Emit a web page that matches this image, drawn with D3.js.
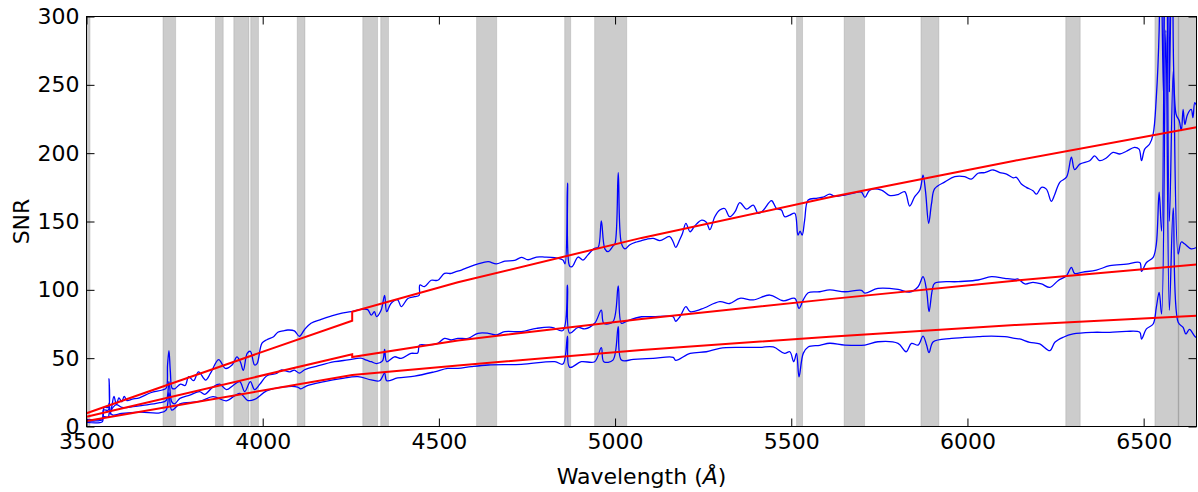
<!DOCTYPE html>
<html>
<head>
<meta charset="utf-8">
<script src="https://cdn.jsdelivr.net/npm/d3@7"></script>
<style>
  body { margin: 0; background: white; }
  svg { display: block; }
</style>
</head>
<body>
<svg id="chart" width="1198" height="492"></svg>
<script>
// masked wavelength windows (Angstrom)
const bands = [[3500,3510],[3717,3753],[3866,3888],[3918,3961],[3966,3988],[4098,4120],
  [4284,4326],[4335,4357],[4607,4664],[4857,4874],[4942,5033],[5515,5532],[5650,5708],
  [5868,5919],[6279,6320],[6532,6600],[6598,6660]]

const xTicks = [3500, 4000, 4500, 5000, 5500, 6000, 6500]
const yTicks = [0, 50, 100, 150, 200, 250, 300]

// measured SNR, three spectra [wavelength, snr]
const snrTop = [[3500,5],[3520,5],[3545,6],[3550,14],[3562,14],[3564,35],[3567,9],[3572,15],[3578,22],
  [3585,16],[3592,21],[3600,18],[3607,22],[3615,19],[3630,20],[3650,21],[3682,24.7],[3715,26.7],
  [3726,28],[3730,45],[3734,55.5],[3738,40],[3743,28],[3750,27.6],[3767,31],[3780,30],[3790,36.5],
  [3804,33.5],[3818,40],[3838,34],[3852,39],[3875,49],[3894,42.5],[3913,45],[3927,51],[3937,47],
  [3945,41],[3956,53.5],[3965,55],[3977,45],[3984,46],[3998,61],[4012,63.5],[4031,65.7],[4043,69],
  [4058,70],[4071,70.6],[4090,70],[4104,66],[4119,71],[4137,75.5],[4166,78.4],[4194,80.8],[4222,82.8],
  [4251,84],[4279,85.7],[4298,85.5],[4308,81.5],[4317,84],[4323,80.4],[4336,85],[4346,96],[4352,84],
  [4364,90],[4383,92.7],[4393,87.7],[4412,93.6],[4431,95],[4444,96],[4446,103.5],[4459,102.3],
  [4478,107],[4497,107],[4516,112],[4535,112],[4545,113],[4564,114.5],[4583,116.5],[4611,119],
  [4640,120.6],[4663,119],[4687,121],[4715,121.5],[4734,123.8],[4753,122],[4777,124],[4800,124],
  [4829,123.5],[4852,121.8],[4858,119],[4865,178],[4871,117.4],[4878,117],[4895,124],[4909,121.8],
  [4923,125.6],[4942,130.4],[4952,131],[4961,150.4],[4971,130],[4980,128],[4994,132],[5000,134],
  [5009,185.7],[5018,134],[5028,130],[5042,133],[5061,135],[5075,136],[5089,137],[5108,137.7],
  [5127,136],[5155,139],[5165,135],[5172,131],[5184,137],[5191,141],[5201,148.7],[5213,142.5],
  [5227,147],[5246,151],[5259,149.5],[5269,144],[5283,153.5],[5297,158.4],[5311,159.5],[5325,153.5],
  [5340,157],[5354,163.8],[5373,159],[5392,162],[5406,156],[5420,158],[5444,165.2],[5458,159.5],
  [5472,158.4],[5481,153.5],[5496,154.7],[5510,156],[5519,140],[5525,143],[5531,140],[5538,151],
  [5548,165.7],[5571,167],[5590,167.8],[5609,170],[5623,168.5],[5652,169.4],[5680,171],[5699,171.5],
  [5709,167.6],[5723,173],[5756,173],[5780,169],[5803,169.7],[5822,171.8],[5836,161.3],[5850,168],
  [5865,173],[5874,184],[5881,172],[5890,148.7],[5898,163],[5907,174],[5936,179],[5964,182.8],
  [5992,182.8],[6011,181],[6030,185.3],[6049,185.8],[6073,187.7],[6092,185.8],[6111,184.7],[6130,182],
  [6139,182.3],[6153,177.4],[6167,175],[6186,172.5],[6196,170],[6210,175],[6224,173.7],[6238,164.8],
  [6248,170],[6262,178.7],[6281,182.4],[6295,197],[6304,188],[6319,192],[6347,194.5],[6361,198],
  [6375,194.5],[6394,196.5],[6413,200.6],[6432,199.4],[6451,201.4],[6474,204.3],[6487,203],[6494,194.5],
  [6503,203],[6517,206.7],[6527,214],[6536,241],[6544,290],[6548,380],[6556,243],[6563,800],[6573,245],
  [6584,450],[6592,228.6],[6601,223.7],[6607,216.5],[6612,232],[6617,221],[6624,228],[6635,232],
  [6640,226],[6645,237],[6650,235]]

const snrMid = [[3500,4],[3520,4],[3545,5],[3548,12],[3562,12],[3564,17],[3568,11],[3575,14],[3585,16],
  [3600,14],[3632,14.5],[3660,15.5],[3690,16.5],[3708,17.4],[3726,19],[3734,32.8],[3742,18],[3750,16.5],
  [3765,20.6],[3793,23],[3821,25.5],[3835,23.5],[3859,29],[3878,31],[3897,27],[3916,30],[3935,32.8],
  [3949,25.5],[3965,32.8],[3977,27],[3992,31],[4011,37],[4039,38.8],[4052,41.3],[4077,40],[4090,41.3],
  [4104,39],[4119,41.5],[4156,44.3],[4204,47.4],[4242,48.7],[4279,50],[4294,48.5],[4308,47.4],[4323,46],
  [4340,48],[4346,56.5],[4352,47.4],[4374,51],[4393,49.8],[4421,53.5],[4440,53.8],[4445,59.6],[4469,59.6],
  [4497,60.8],[4516,64.5],[4535,63.3],[4554,64.5],[4583,64.5],[4611,68.2],[4640,68.2],[4663,67],
  [4687,69.4],[4734,69.4],[4777,71.8],[4820,72.6],[4852,70.2],[4865,103.5],[4871,68.3],[4895,72.6],
  [4914,71.4],[4942,75.5],[4961,85.2],[4968,75.5],[4994,76.7],[5009,102.8],[5018,75.5],[5032,77],
  [5075,80.3],[5108,80.3],[5146,80.8],[5165,80.3],[5172,77],[5184,80.3],[5201,87.7],[5213,84],[5246,86],
  [5297,91.3],[5325,90],[5354,93.8],[5392,92.6],[5439,96.2],[5477,92],[5510,93.8],[5522,86.5],[5534,92.6],
  [5548,97.9],[5581,98.6],[5609,99.9],[5652,98.6],[5699,99.6],[5709,97.6],[5746,101],[5803,100.3],
  [5836,98.4],[5860,102.3],[5874,109.6],[5884,99.6],[5891,84],[5900,99.6],[5907,104.8],[5974,106],
  [6030,107.2],[6068,109.6],[6106,108.4],[6134,107.7],[6144,107.9],[6163,104.3],[6186,105.5],[6210,104.3],
  [6234,101.8],[6257,106.7],[6281,110.3],[6295,116.5],[6304,112],[6328,113],[6366,114.4],[6404,117.7],
  [6451,118.8],[6489,120],[6494,113.5],[6508,120],[6527,123.8],[6536,133.5],[6544,171.4],[6551,143],
  [6563,450],[6573,150],[6584,260],[6598,126.2],[6607,135],[6617,133.5],[6635,130],[6650,131]]

const snrLow = [[3500,3],[3545,3.5],[3548,7],[3562,7],[3565,10],[3575,8.4],[3600,9.5],[3650,10.5],
  [3708,10],[3726,12],[3734,24.7],[3742,12],[3765,16.5],[3821,18.3],[3859,21.8],[3897,18.8],[3935,24.3],
  [3958,19],[3977,19.8],[4011,26],[4061,29],[4099,28.9],[4108,27.5],[4125,29.8],[4175,32.8],[4222,35],
  [4270,36.5],[4308,34.1],[4332,33.5],[4346,39],[4352,33.5],[4383,35.5],[4431,36.9],[4487,40],[4525,42.5],
  [4554,42.5],[4592,43.8],[4640,45],[4734,45.5],[4829,47.4],[4852,45.7],[4865,66.2],[4871,43.3],
  [4904,47.4],[4942,47.4],[4961,57.7],[4968,47.4],[4994,48.6],[5009,73],[5018,48.6],[5052,49.1],
  [5108,49.9],[5165,50.6],[5172,48.4],[5213,53.5],[5259,54.7],[5297,57.2],[5354,57.9],[5411,57.9],
  [5449,58.2],[5481,53.5],[5496,54.7],[5507,47.4],[5515,53.5],[5522,36.4],[5534,53.5],[5548,58.2],
  [5581,59.4],[5609,60.9],[5652,59.6],[5709,59.6],[5746,62],[5803,60.8],[5826,54.7],[5841,60.8],
  [5860,59.6],[5874,66.2],[5884,59.6],[5891,54],[5903,62],[5955,64.5],[6030,65.7],[6068,66.2],
  [6106,65.7],[6134,64.5],[6148,64.1],[6177,61.6],[6205,60.4],[6234,55.5],[6248,61.6],[6272,65.3],
  [6300,67.7],[6356,68.9],[6404,68.9],[6451,69.6],[6489,68.9],[6494,64],[6508,71.4],[6527,75],
  [6536,87.2],[6544,98.2],[6551,82.3],[6563,290],[6573,85],[6584,160],[6598,76.2],[6612,72.5],
  [6620,67.7],[6630,71],[6645,66],[6650,65]]

// model curves (red)
const modelTop = [[3500,9.7],[3729,30.4],[4254,77.4],[4254,84],[4554,105.5],[5075,138],[5609,167.7],[6134,194.5],[6650,219]]
const modelMid = [[3500,7.2],[4254,52.8],[4254,50.8],[4554,63],[5075,78.6],[5609,93.2],[6134,106.7],[6650,118.5]]
const modelLow = [[3500,4],[4254,37.7],[4554,44.7],[5075,56],[5609,65.7],[6134,74.2],[6650,81]]

const svg = d3.select('#chart')
const margin = {left: 86.5, top: 16.5, right: 1.5, bottom: 65.5}
const width = 1198 - margin.left - margin.right
const height = 492 - margin.top - margin.bottom
const font = 'DejaVu Sans, sans-serif'

let xScale = d3.scaleLinear().domain([3500, 6650]).range([0, width])
let yScale = d3.scaleLinear().domain([0, 300]).range([height, 0])

let plot = svg.append('g')
              .attr('transform', `translate(${margin.left}, ${margin.top})`)

plot.append('clipPath')
    .attr('id', 'clip')
    .append('rect')
    .attr('width', width)
    .attr('height', height)

let inner = plot.append('g').attr('clip-path', 'url(#clip)')

inner.selectAll('.band')
     .data(bands)
     .enter()
     .append('rect')
     .attr('class', 'band')
     .attr('x', d => xScale(d[0]))
     .attr('width', d => xScale(d[1]) - xScale(d[0]))
     .attr('y', 0)
     .attr('height', height)
     .style('fill', 'gray')
     .style('fill-opacity', 0.4)
     .style('stroke', 'gray')
     .style('stroke-opacity', 0.25)
     .style('stroke-width', 1)

// spectra get a light smoothing, model lines stay straight
let spectrumLine = d3.line()
                     .x(d => xScale(d[0]))
                     .y(d => yScale(d[1]))
                     .curve(d3.curveCatmullRom.alpha(0.5))

let lineGenerator = d3.line()
                      .x(d => xScale(d[0]))
                      .y(d => yScale(d[1]))

;[snrTop, snrMid, snrLow].forEach(s => {
  inner.append('path')
       .datum(s)
       .attr('d', spectrumLine)
       .style('fill', 'none')
       .style('stroke', '#0000ff')
       .style('stroke-width', 1.3)
       .style('stroke-linejoin', 'round')
})

;[modelTop, modelMid, modelLow].forEach(s => {
  inner.append('path')
       .datum(s)
       .attr('d', lineGenerator)
       .style('fill', 'none')
       .style('stroke', '#ff0000')
       .style('stroke-width', 2)
})

// axes, ticks pointing inward on all four sides
let styleAxis = g => {
  g.select('.domain').remove()
  g.selectAll('.tick line').style('stroke', 'black')
  g.selectAll('.tick text').style('font-family', font).style('font-size', '22px').style('fill', 'black')
}

plot.append('g')
    .attr('transform', `translate(0, ${height})`)
    .call(d3.axisBottom(xScale).tickValues(xTicks).tickSize(-8).tickPadding(7).tickFormat(d3.format('d')))
    .call(styleAxis)

plot.append('g')
    .call(d3.axisTop(xScale).tickValues(xTicks).tickSize(-8).tickFormat(''))
    .call(styleAxis)

plot.append('g')
    .call(d3.axisLeft(yScale).tickValues(yTicks).tickSize(-8).tickPadding(7))
    .call(styleAxis)

plot.append('g')
    .attr('transform', `translate(${width}, 0)`)
    .call(d3.axisRight(yScale).tickValues(yTicks).tickSize(-8).tickFormat(''))
    .call(styleAxis)

plot.append('rect')
    .attr('width', width)
    .attr('height', height)
    .style('fill', 'none')
    .style('stroke', 'black')
    .style('stroke-width', 1)

let xLabel = plot.append('text')
                 .attr('x', width / 2)
                 .attr('y', height + 57)
                 .style('text-anchor', 'middle')
                 .style('font-family', font)
                 .style('font-size', '22px')
xLabel.append('tspan').text('Wavelength (')
xLabel.append('tspan').text('Å').style('font-style', 'italic')
xLabel.append('tspan').text(')')

plot.append('text')
    .text('SNR')
    .attr('transform', `translate(${-58}, ${height / 2})rotate(-90)`)
    .style('text-anchor', 'middle')
    .style('font-family', font)
    .style('font-size', '22px')
</script>
</body>
</html>
